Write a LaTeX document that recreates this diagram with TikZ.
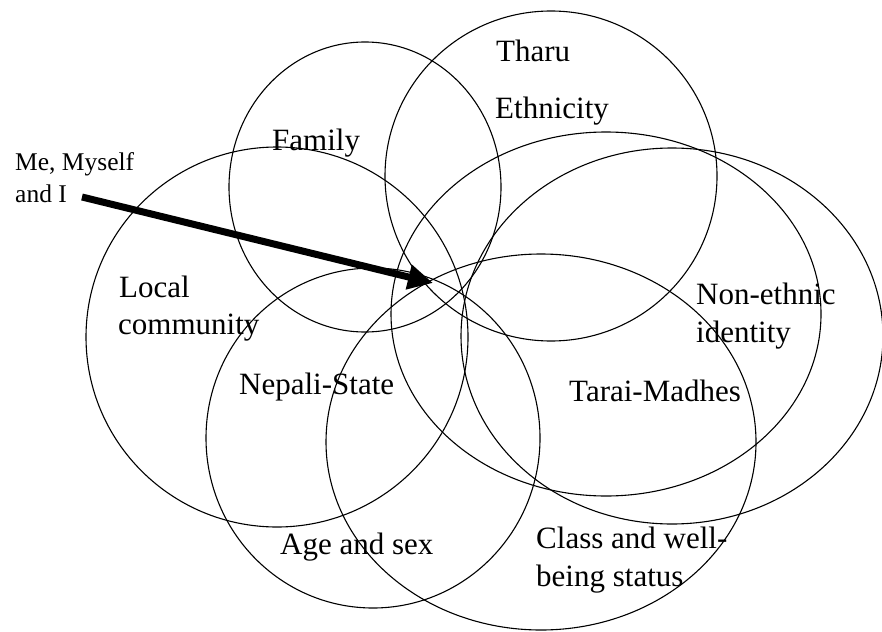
\documentclass[tikz,border=0pt]{standalone}
\usepackage{fontspec}
\setmainfont{Liberation Serif}
\usetikzlibrary{arrows.meta}
\begin{document}
\begin{tikzpicture}[x=1pt,y=-1pt,
  ring/.style={draw=black,line width=1.1pt},
  biglabel/.style={anchor=base west,inner sep=0pt,font=\fontsize{31}{38}\selectfont},
  smalllabel/.style={anchor=base west,inner sep=0pt,align=left,font=\fontsize{25.5}{32}\selectfont},
  pointer/.style={line width=7pt,-{Triangle[length=25pt,width=24pt]}}]
\useasboundingbox (0,0) rectangle (882,631);
% overlapping spheres of identity
\draw[ring] (365,187) ellipse [x radius=136,y radius=145];   % family
\draw[ring] (551,176) ellipse [x radius=166,y radius=165];   % ethnicity
\draw[ring] (277,337) ellipse [x radius=191,y radius=190];   % local community
\draw[ring] (373,438) ellipse [x radius=167,y radius=170];   % nepali state
\draw[ring] (541,442) ellipse [x radius=215,y radius=188];   % class and well-being
\draw[ring] (606,314) ellipse [x radius=215,y radius=182];   % tarai-madhes
\draw[ring] (672,336) ellipse [x radius=211,y radius=188];   % non-ethnic identity
% labels
\node[biglabel] (tharu) at (496,62) {Tharu};
\node[biglabel] (ethnicity) at (495,119) {Ethnicity};
\node[biglabel] (family) at (272,150) {Family};
\node[biglabel] (local) at (119,297) {Local};
\node[biglabel] (community) at (118,334) {community};
\node[biglabel] (nepali) at (239,394) {Nepali-State};
\node[biglabel] (agesex) at (280,554) {Age and sex};
\node[biglabel] (nonethnic) at (696,304) {Non-ethnic};
\node[biglabel] (identity) at (696,342) {identity};
\node[biglabel] (tarai) at (569,401) {Tarai-Madhes};
\node[biglabel] (class) at (536,548) {Class and well-};
\node[biglabel] (being) at (536,586) {being status};
\node[smalllabel] (me) at (15,170) {Me, Myself};
\node[smalllabel] (andi) at (15,202) {and I};
% pointer into the common core
\coordinate (selfstart) at (82,197);
\coordinate (core) at (433,283);
\draw[pointer] (selfstart) -- (core);
\end{tikzpicture}
\end{document}
